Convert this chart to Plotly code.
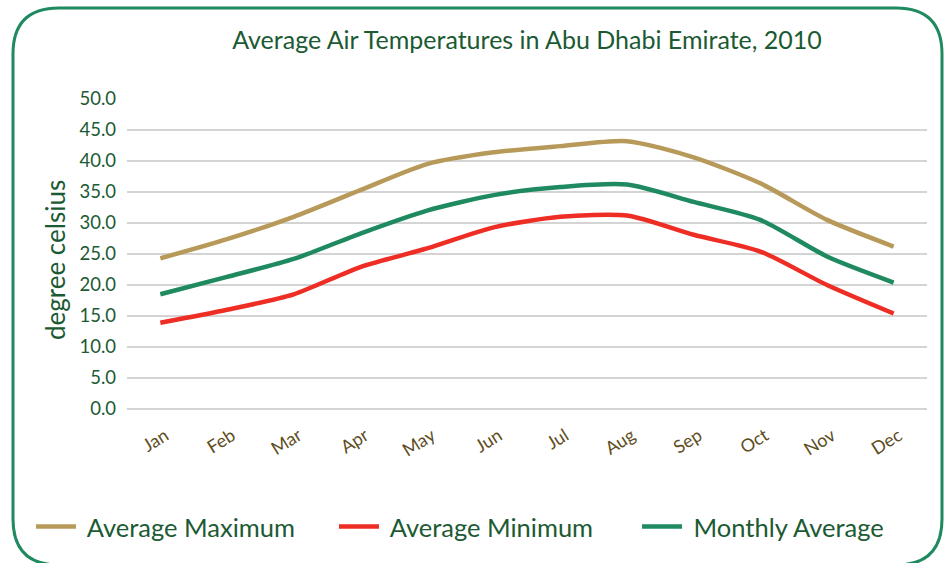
import plotly.graph_objects as go

months = ["Jan", "Feb", "Mar", "Apr", "May", "Jun", "Jul", "Aug", "Sep", "Oct", "Nov", "Dec"]
avg_max = [24.3, 27.4, 31.0, 35.3, 39.5, 41.4, 42.4, 43.2, 40.6, 36.4, 30.5, 26.2]
avg_min = [13.9, 16.0, 18.5, 22.9, 25.9, 29.3, 31.0, 31.2, 28.1, 25.4, 20.0, 15.4]
monthly_avg = [18.5, 21.3, 24.2, 28.3, 32.0, 34.5, 35.8, 36.2, 33.4, 30.5, 24.6, 20.4]
y_ticks = [0, 5, 10, 15, 20, 25, 30, 35, 40, 45, 50]

DARK = "#1b5a33"
FONT = "Lato"

W, H = 946, 563
L, R, T, B = 127, 19, 99, 154
pw, ph = W - L - R, H - T - B

fig = go.Figure()
for name, vals, col in [(" Average Maximum", avg_max, "#b79a5a"),
                        (" Average Minimum", avg_min, "#ee2e24"),
                        (" Monthly Average", monthly_avg, "#1f8a60")]:
    fig.add_trace(go.Scatter(x=months, y=vals, name=name, mode="lines",
                             line=dict(color=col, width=4.5, shape="spline", smoothing=0.7)))


# rounded frame around the whole picture, in paper coords
def px(x):
    return (x - L) / pw


def py(y):
    return (H - B - y) / ph


x0, x1, y0, y1, r = 13, 942, 8, 565, 46
path = (f"M {px(x0 + r)},{py(y0)} L {px(x1 - r)},{py(y0)} "
        f"Q {px(x1)},{py(y0)} {px(x1)},{py(y0 + r)} L {px(x1)},{py(y1 - r)} "
        f"Q {px(x1)},{py(y1)} {px(x1 - r)},{py(y1)} L {px(x0 + r)},{py(y1)} "
        f"Q {px(x0)},{py(y1)} {px(x0)},{py(y1 - r)} L {px(x0)},{py(y0 + r)} "
        f"Q {px(x0)},{py(y0)} {px(x0 + r)},{py(y0)} Z")
fig.add_shape(type="path", path=path, xref="paper", yref="paper",
              line=dict(color="#1f8a60", width=3), layer="below")

fig.add_annotation(text="degree celsius", textangle=-90, showarrow=False,
                   xref="paper", yref="paper", x=px(55), y=py(260),
                   xanchor="center", yanchor="middle",
                   font=dict(size=26, color=DARK, family=FONT))

fig.update_layout(
    width=W, height=H,
    margin=dict(l=L, r=R, t=T, b=B, autoexpand=False),
    paper_bgcolor="white", plot_bgcolor="white",
    font=dict(family=FONT, color=DARK),
    title=dict(text="Average Air Temperatures in Abu Dhabi Emirate, 2010",
               x=527 / W, xanchor="center", y=1 - 40 / H, yanchor="middle",
               font=dict(size=25, color=DARK, family=FONT)),
    legend=dict(orientation="h", x=px(31), xanchor="left", y=py(527), yanchor="middle",
                font=dict(size=25.5, color=DARK, family=FONT), bgcolor="rgba(0,0,0,0)",
                entrywidth=248, entrywidthmode="pixels", itemwidth=40),
    showlegend=True,
)
fig.update_xaxes(type="category", range=[-0.5, 11.5], tickangle=-32,
                 tickfont=dict(size=18, color="#5e4d1e", family=FONT),
                 showgrid=False, showline=False, ticks="", ticklen=0, automargin=False,
                 ticklabelstandoff=12, ticklabelshift=5)
fig.update_yaxes(range=[0, 50], tickvals=y_ticks, ticktext=[f"{v:.1f}" for v in y_ticks],
                 tickfont=dict(size=18.5, color=DARK, family=FONT),
                 showgrid=True, gridcolor="#d4d4d4", gridwidth=2,
                 zeroline=True, zerolinecolor="#d4d4d4", zerolinewidth=2,
                 showline=False, ticks="", ticklabelstandoff=10, automargin=False)

# the page body has a default 8px margin; drop it so the figure fills the window
fig.write_html("out.html", config={"displayModeBar": False},
               post_script="document.body.style.margin='0';")
